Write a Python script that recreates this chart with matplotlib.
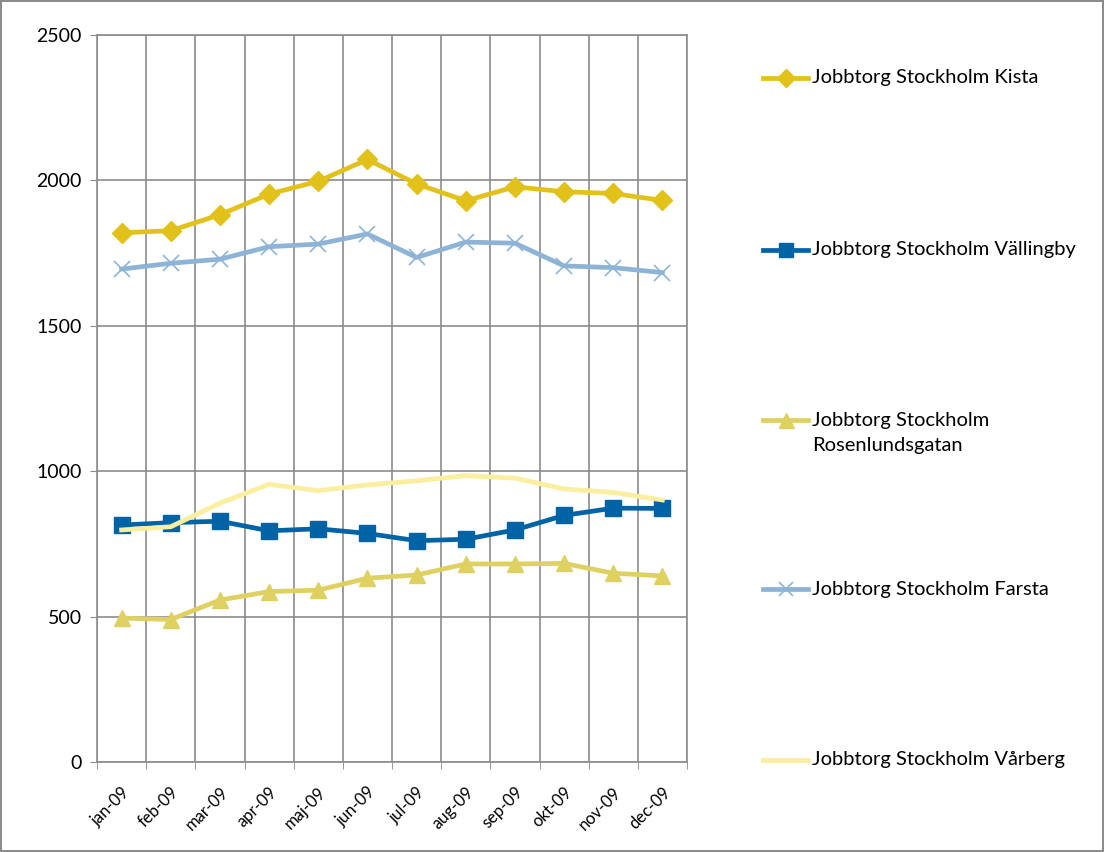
import matplotlib
matplotlib.use("Agg")
import matplotlib.pyplot as plt
from matplotlib.lines import Line2D
import numpy as np

months = ["jan-09", "feb-09", "mar-09", "apr-09", "maj-09", "jun-09",
          "jul-09", "aug-09", "sep-09", "okt-09", "nov-09", "dec-09"]
kista = [1820, 1827, 1882, 1953, 1997, 2072, 1988, 1930, 1978, 1961, 1955, 1931]
vallingby = [815, 823, 828, 795, 802, 786, 761, 766, 798, 848, 873, 872]
rosenlund = [495, 490, 557, 586, 591, 632, 643, 681, 681, 683, 649, 640]
farsta = [1695, 1715, 1729, 1772, 1781, 1816, 1735, 1788, 1784, 1706, 1700, 1683]
varberg = [798, 809, 890, 955, 933, 953, 967, 985, 976, 939, 927, 901]

labels = ["Jobbtorg Stockholm Kista", "Jobbtorg Stockholm Vällingby",
          "Jobbtorg Stockholm\nRosenlundsgatan", "Jobbtorg Stockholm Farsta",
          "Jobbtorg Stockholm Vårberg"]
colors = ["#E2C11A", "#0063A6", "#DED162", "#8DB4D6", "#FBEE9E"]

plt.rcParams['font.family'] = ['Lato', 'DejaVu Sans']

fig = plt.figure(figsize=(11.04, 8.52), dpi=100)
fig.patch.set_edgecolor("#8c8c8c")
fig.patch.set_linewidth(1.5)
ax = fig.add_axes([97/1104, 1-762/852, (687-97)/1104, (762-35)/852])

x = np.arange(len(months))
styles = [
    dict(marker="D", markersize=10),
    dict(marker="s", markersize=11.5),
    dict(marker="^", markersize=12),
    dict(marker="x", markersize=11, markeredgewidth=1.2),
    dict(marker=None),
]
series = [kista, vallingby, rosenlund, farsta, varberg]
order = [4, 2, 1, 3, 0]
for i in order:
    ax.plot(x, series[i], color=colors[i], linewidth=3.4, zorder=3 + i * 0.1,
            **styles[i])

ax.set_xlim(-0.5, len(months) - 0.5)
ax.set_ylim(0, 2500)
ax.set_yticks([0, 500, 1000, 1500, 2000, 2500])
ax.set_yticklabels(["0", "500", "1000", "1500", "2000", "2500"], fontsize=14)
ax.set_xticks(x)
ax.set_xticklabels(months, rotation=45, ha="right", rotation_mode="anchor", fontsize=12)
ax.set_xticks(np.arange(-0.5, len(months)), minor=True)
ax.tick_params(axis="x", which="major", length=0, pad=16)
ax.tick_params(axis="x", which="minor", length=5, color="#888888")
ax.tick_params(axis="y", length=5, color="#888888", pad=6)
ax.grid(True, which="minor", axis="x", color="#8c8c8c", linewidth=1.2)
ax.grid(True, which="major", axis="y", color="#8c8c8c", linewidth=1.2)
for s in ax.spines.values():
    s.set_color("#8c8c8c")
    s.set_linewidth(1.2)

# legend drawn manually
leg_y = [78, 250, 420, 589, 760]
for i, yy in enumerate(leg_y):
    yf = 1 - yy / 852
    st = dict(styles[i])
    fig.add_artist(Line2D([763/1104, 808/1104], [yf, yf], transform=fig.transFigure,
                          color=colors[i], linewidth=3.4))
    if st.get("marker"):
        st["markersize"] = st["markersize"] * 0.9
        fig.add_artist(Line2D([785.5/1104], [yf], transform=fig.transFigure,
                              color=colors[i], linestyle="none", **st))
    if "\n" in labels[i]:
        fig.text(812/1104, yf + 0.0095, labels[i], fontsize=14.5, va="top", ha="left",
                 linespacing=1.55)
    else:
        fig.text(812/1104, yf, labels[i], fontsize=14.5, va="center", ha="left")

fig.savefig("out.png", dpi=100)
